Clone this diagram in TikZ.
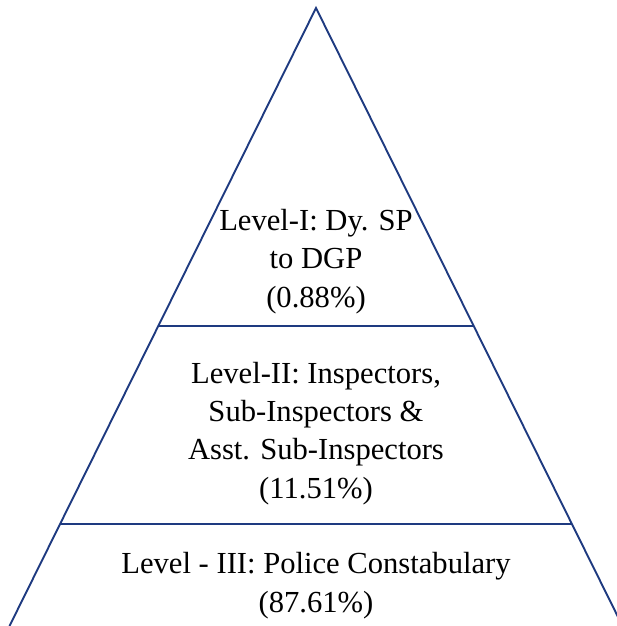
\documentclass[tikz,border=0pt]{standalone}
\usepackage{fontspec}
\setmainfont{Liberation Serif}
\definecolor{pyrblue}{RGB}{30,58,128}
\begin{document}
\begin{tikzpicture}[x=1pt,y=-1pt,
  edge/.style={draw=pyrblue,line width=1.9pt},
  lvl/.style={align=center,anchor=base,inner sep=0pt,font=\fontsize{30.6}{38.3}\selectfont}]
\useasboundingbox (0,0) rectangle (617,626);
\clip (0,0) rectangle (617,626);
\coordinate (apex) at (316,8);
\coordinate (bl) at (9.5,626);
\coordinate (br) at (622.5,626);
\coordinate (l1) at (158.3,326);
\coordinate (r1) at (473.7,326);
\coordinate (l2) at (60.1,524);
\coordinate (r2) at (571.9,524);
\draw[edge,line join=miter] (bl) -- (apex) -- (br);
\draw[edge] (l1) -- (r1);
\draw[edge] (l2) -- (r2);
\node[lvl] (t1) at (316,307) {Level-I: Dy. SP\\to DGP\\(0.88\%)};
\node[lvl] (t2) at (316,498) {Level-II: Inspectors,\\Sub-Inspectors \&\\Asst. Sub-Inspectors\\(11.51\%)};
\node[lvl] (t3) at (316,612) {Level - III: Police Constabulary\\(87.61\%)};
\end{tikzpicture}
\end{document}
